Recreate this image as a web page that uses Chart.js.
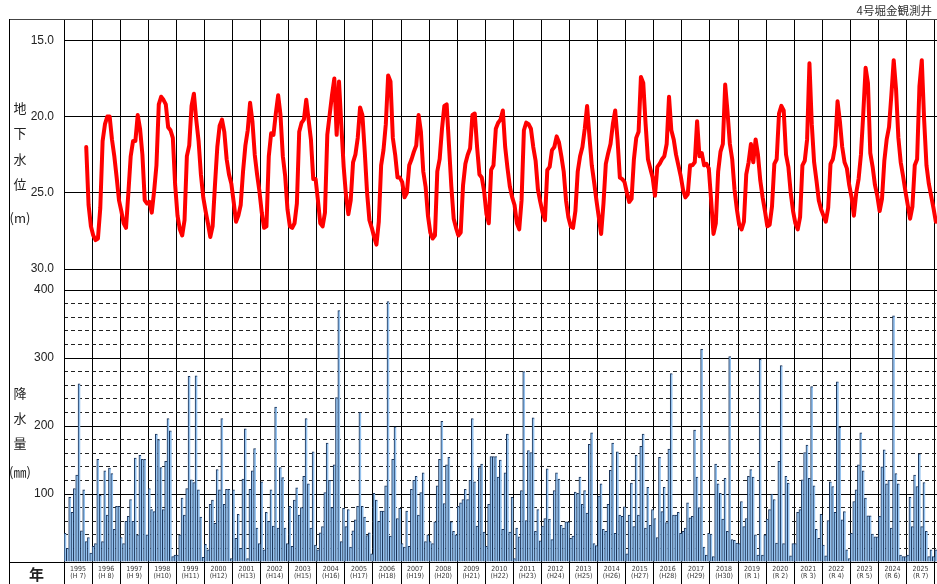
<!DOCTYPE html>
<html lang="ja">
<head>
<meta charset="utf-8">
<title>4号堀金観測井</title>
<script src="https://cdn.jsdelivr.net/npm/chart.js@4.4.1/dist/chart.umd.min.js"></script>
<style>
  html, body { margin: 0; padding: 0; background: #fff; }
  body { width: 937px; height: 584px; overflow: hidden; position: relative;
         font-family: "Noto Sans CJK JP", "Noto Sans", sans-serif; color: #222; }
  canvas { position: absolute; left: 0; }
  .rule { position: absolute; background: #000; }
  .side { position: absolute; left: 0; width: 40px; text-align: center; font-size: 13px; line-height: 14px; }
  #title { position: absolute; right: 5px; top: 5px; font-size: 11.5px; line-height: 1; color: #333; }
  #nen { position: absolute; left: 29px; top: 566px; font-size: 15px; line-height: 16px; font-weight: 700; }
</style>
</head>
<body>
<canvas id="level" width="937" height="280" style="top:0"></canvas>
<canvas id="rain" width="937" height="334" style="top:250px"></canvas>

<div class="rule" style="left:9px;top:19px;width:928px;height:1px;background:#444"></div>
<div class="rule" style="left:9px;top:19px;width:1px;height:565px"></div>
<div class="rule" style="left:9px;top:562px;width:55px;height:1px"></div>

<div id="title">4号堀金観測井</div>

<div class="side" style="top:101px">地</div>
<div class="side" style="top:126px">下</div>
<div class="side" style="top:152px">水</div>
<div class="side" style="top:177px">位</div>
<div class="side" style="top:211px">(m)</div>

<div class="side" style="top:386px">降</div>
<div class="side" style="top:411px">水</div>
<div class="side" style="top:436px">量</div>
<div class="side" style="top:465px">(㎜)</div>

<div id="nen">年</div>

<script>
// Year boxes along the bottom axis
const yearLabels = ['1995','1996','1997','1998','1999','2000','2001','2002','2003','2004',
  '2005','2006','2007','2008','2009','2010','2011','2012','2013','2014',
  '2015','2016','2017','2018','2019','2020','2021','2022','2023','2024','2025'];
const eraLabels = ['(H 7)','(H 8)','(H 9)','(H10)','(H11)','(H12)','(H13)','(H14)','(H15)','(H16)',
  '(H17)','(H18)','(H19)','(H20)','(H21)','(H22)','(H23)','(H24)','(H25)','(H26)',
  '(H27)','(H28)','(H29)','(H30)','(R 1)','(R 2)','(R 3)','(R 4)','(R 5)','(R 6)','(R 7)'];

const levelTicks = [15, 20, 25, 30];
const rainTicks = [0, 100, 200, 300, 400];
const rainMinorTicks = [20, 40, 60, 80, 120, 140, 160, 180, 220, 240, 260, 280, 320, 340, 360, 380];

// Groundwater depth (m), monthly from Jan 1995; one row per year
const level1990s = [
  null,null,null,null,null,null,null,null,null,22.0,25.8,27.2,
  27.8,28.1,28.0,26.0,21.6,20.5,20.0,20.0,21.5,22.6,24.0,25.5,
  26.2,27.0,27.3,25.0,22.6,21.6,21.6,19.9,20.8,22.5,25.5,25.7,
  25.6,26.3,24.9,23.2,19.2,18.7,18.9,19.2,20.7,20.9,21.4,24.5,
  26.5,27.4,27.8,26.8,22.6,21.9,19.3,18.5,20.2,21.6,23.8,25.3
];
const level2000s = [
  26.2,27.0,27.9,27.2,24.5,22.0,20.6,20.2,21.0,22.8,23.8,24.4,
  25.6,26.9,26.5,25.8,23.6,21.9,20.9,19.1,20.3,22.5,23.8,24.9,
  26.3,27.3,27.2,22.6,21.1,21.2,19.8,18.6,19.9,22.6,23.9,26.1,
  27.2,27.3,27.0,25.7,21.0,20.4,20.2,18.9,20.2,21.5,24.1,24.1,
  25.5,27.0,27.2,26.3,21.2,19.9,18.6,17.5,21.2,17.7,20.6,23.3,
  25.2,26.4,25.5,23.0,22.5,21.4,19.4,19.9,22.3,25.0,26.8,27.3,
  27.9,28.4,26.9,23.2,22.2,20.5,17.3,17.7,21.4,22.5,24.0,24.0,
  24.3,25.3,25.0,23.2,22.8,22.3,21.9,19.9,21.0,23.6,24.6,26.5,
  27.6,28.0,27.8,23.6,22.8,20.8,19.3,19.2,21.9,24.6,26.7,27.3,
  27.8,27.6,24.5,23.1,22.5,22.1,19.9,19.8,22.0,23.8,24.0,24.9
];
const level2010s = [
  26.4,27.0,23.5,23.2,20.8,20.4,20.2,19.6,22.0,23.4,24.6,25.3,
  25.8,27.0,27.4,25.5,20.9,20.4,20.5,20.8,22.0,22.9,24.8,25.6,
  26.3,26.8,23.5,23.3,22.2,22.0,21.3,21.7,22.6,23.6,25.5,26.6,
  27.2,27.3,26.2,23.6,22.6,22.0,20.8,19.3,21.3,23.2,24.3,25.5,
  26.6,27.7,25.7,23.1,22.4,21.8,20.5,19.6,21.5,24.0,24.1,24.3,
  25.0,25.6,25.4,22.8,21.4,21.0,17.4,17.8,20.5,22.8,23.4,24.0,
  25.2,23.3,23.1,22.8,22.6,21.8,18.7,20.9,21.5,22.5,23.2,23.9,
  24.8,25.3,25.1,23.2,23.2,23.0,20.3,22.6,22.4,23.2,23.1,23.4,
  25.5,27.7,27.0,23.6,22.3,21.8,17.9,19.7,21.8,22.8,24.8,26.1,
  27.1,27.4,26.9,23.8,23.0,21.8,23.0,21.5,22.5,24.2,25.3,26.2
];
const level2020s = [
  27.2,27.1,25.9,23.1,22.8,19.8,19.3,19.6,22.5,23.3,25.0,26.2,
  27.0,27.4,26.6,23.2,22.9,21.5,16.5,20.5,23.0,24.2,25.5,26.1,
  26.5,26.9,26.0,23.1,22.8,21.9,19.0,20.3,22.0,23.0,23.4,24.5,
  25.3,26.5,25.0,24.1,22.5,19.8,16.8,17.8,22.4,23.3,24.5,25.2,
  26.2,25.4,22.9,21.5,20.7,18.6,16.3,18.2,21.4,23.0,23.9,24.9,
  25.8,26.7,25.9,23.2,22.8,18.0,16.3,20.2,23.2,24.4,25.2,26.0,
  26.9
];

// Monthly precipitation (mm), from Jan 1995; one row per year
const rain1990s = [
  42,20,95,73,108,128,262,46,106,30,36,13,
  23,27,151,98,30,134,69,138,130,48,82,82,
  36,27,60,67,92,60,153,40,157,151,151,40,
  108,77,74,188,180,139,77,148,211,193,8,10,
  10,40,94,69,108,273,121,117,274,106,66,7
];
const rain2000s = [
  26,18,85,91,57,136,106,211,85,107,107,5,
  106,35,70,20,122,196,5,107,134,167,50,27,
  118,18,73,60,106,53,228,50,139,124,50,27,
  82,23,91,109,69,80,126,211,115,50,162,25,
  18,43,52,102,175,120,80,143,242,370,30,79,
  52,77,22,46,62,82,220,82,66,39,43,12,
  101,91,60,75,75,112,383,38,151,199,64,79,
  27,22,75,23,107,120,126,69,102,131,30,40,
  30,27,59,112,151,207,86,143,154,59,45,40,
  82,87,92,107,92,120,211,118,53,139,144,44
];
const rain2010s = [
  23,85,155,155,155,125,150,48,131,188,44,95,
  5,50,37,105,280,61,164,161,212,45,77,31,
  53,64,137,63,33,105,131,122,54,50,59,59,
  35,38,103,101,125,85,105,72,173,190,27,24,
  97,115,48,45,85,135,175,42,162,69,67,81,
  12,69,116,52,157,69,170,188,50,110,54,77,
  64,36,154,74,110,58,166,277,69,69,73,42,
  45,50,87,65,67,194,125,80,313,22,10,42,
  41,8,144,115,101,63,123,45,302,33,32,28,
  27,89,52,64,126,136,125,40,10,298,10,40
];
const rain2020s = [
  63,77,100,92,28,148,289,27,126,116,9,27,
  27,73,77,121,161,172,123,258,112,48,35,70,
  25,9,61,118,111,73,265,198,62,74,18,5,
  42,89,106,143,190,134,94,68,68,41,37,37,
  67,140,165,115,120,50,362,130,115,10,8,8,
  10,95,52,128,111,159,52,117,45,8,18,8,
  18
];

const groundwaterDepth = [].concat(level1990s, level2000s, level2010s, level2020s);
const precipitation = [].concat(rain1990s, rain2000s, rain2010s, rain2020s);

const monthLabels = precipitation.map((_, i) => (1995 + Math.floor(i / 12)) + '/' + (i % 12 + 1));

Chart.defaults.font.family = "'Liberation Sans', Arial, sans-serif";
Chart.defaults.color = '#222';

// vertical rules only at January boundaries
const yearRule = ctx => (ctx.index % 12 === 0 ? '#000' : 'rgba(0,0,0,0)');
const noTick = 'rgba(0,0,0,0)';

new Chart(document.getElementById('level'), {
  type: 'line',
  data: {
    labels: monthLabels,
    datasets: [{
      data: groundwaterDepth,
      borderColor: '#ff0000',
      borderWidth: 4,
      pointRadius: 0,
      tension: 0,
      spanGaps: false,
      borderJoinStyle: 'round',
      borderCapStyle: 'round'
    }]
  },
  options: {
    responsive: false,
    animation: false,
    devicePixelRatio: 1,
    layout: { padding: { left: 9, top: 19, right: 0, bottom: 11 } },
    plugins: { legend: { display: false }, tooltip: { enabled: false } },
    scales: {
      x: {
        offset: true,
        grid: { offset: true, color: yearRule, lineWidth: 1, drawTicks: false },
        ticks: { display: false, autoSkip: false },
        border: { display: true, color: '#000' },
        afterFit: s => { s.height = 0; }
      },
      y: {
        reverse: true,
        min: 13.6,
        max: 30,
        afterBuildTicks: s => { s.ticks = levelTicks.map(v => ({ value: v })); },
        grid: { color: '#000', lineWidth: 1, drawTicks: true, tickLength: 10, tickColor: noTick },
        ticks: { padding: 0, font: { size: 12 }, color: '#222', callback: v => Number(v).toFixed(1) },
        border: { color: '#000' },
        afterFit: s => { s.width = 55; }
      }
    }
  }
});

new Chart(document.getElementById('rain'), {
  type: 'bar',
  data: {
    labels: monthLabels,
    datasets: [{
      data: precipitation,
      backgroundColor: '#94c2ef',
      borderColor: '#1a3358',
      borderWidth: { top: 1, left: 1, right: 0, bottom: 0 },
      borderSkipped: false,
      barPercentage: 1,
      categoryPercentage: 1,
      yAxisID: 'y'
    }]
  },
  options: {
    responsive: false,
    animation: false,
    devicePixelRatio: 1,
    layout: { padding: { left: 9, top: 19, right: 0, bottom: 0 } },
    plugins: { legend: { display: false }, tooltip: { enabled: false } },
    scales: {
      x: {
        offset: true,
        grid: { offset: true, color: yearRule, tickColor: yearRule, lineWidth: 1, drawTicks: true, tickLength: 22 },
        ticks: {
          autoSkip: false,
          maxRotation: 0,
          minRotation: 0,
          padding: -18,
          labelOffset: -1.17,
          color: '#333',
          font: { size: 7, lineHeight: 1, family: "'Liberation Sans Narrow', 'DejaVu Sans Condensed', 'Liberation Sans', sans-serif" },
          callback: (v, i) => (i % 12 === 6 ? [yearLabels[Math.floor(i / 12)], eraLabels[Math.floor(i / 12)]] : '')
        },
        border: { display: true, color: '#000' },
        afterFit: s => { s.height = 22; }
      },
      y: {
        min: 0,
        max: 431,
        afterBuildTicks: s => { s.ticks = rainTicks.map(v => ({ value: v })); },
        grid: { color: '#000', lineWidth: 1, drawTicks: true, tickLength: 10, tickColor: noTick },
        ticks: { padding: 0, font: { size: 12 }, color: '#222', callback: v => (v === 0 ? '' : String(v)) },
        border: { color: '#000' },
        afterFit: s => { s.width = 55; }
      },
      yMinor: {
        position: 'left',
        min: 0,
        max: 431,
        afterBuildTicks: s => { s.ticks = rainMinorTicks.map(v => ({ value: v })); },
        grid: { color: '#222', lineWidth: 1, drawTicks: false },
        ticks: { display: false },
        border: { display: false, dash: [4, 3] },
        afterFit: s => { s.width = 0; }
      }
    }
  }
});
</script>
</body>
</html>
